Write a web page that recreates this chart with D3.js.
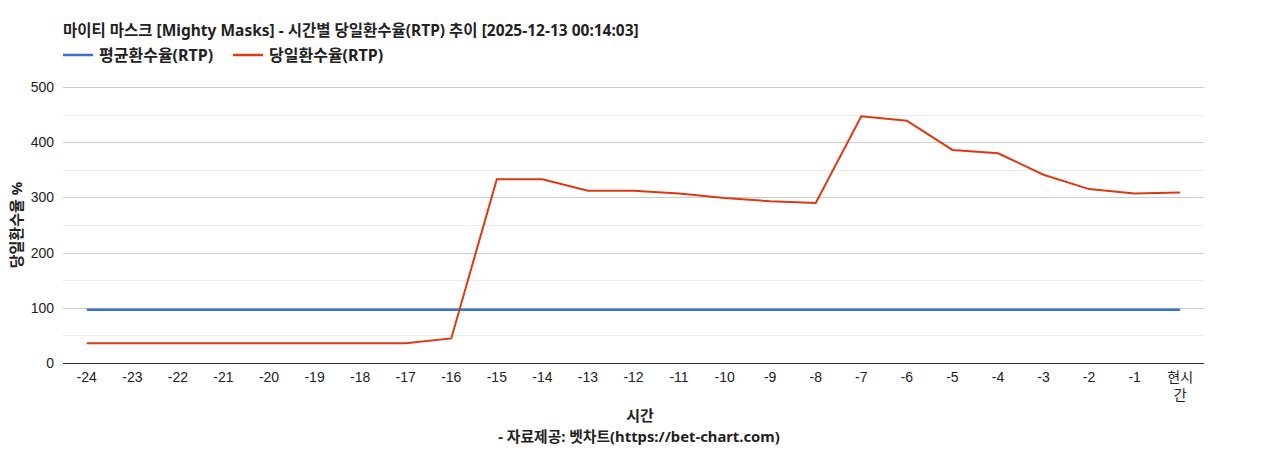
<!DOCTYPE html>
<html>
<head>
<meta charset="utf-8">
<script src="https://cdn.jsdelivr.net/npm/d3@7"></script>
<style>
  body { margin: 0; background: #fff; }
  text { font-family: "Liberation Sans", Arial, "Noto Sans CJK KR", sans-serif; }
  text.head { font-family: "Noto Sans", "Noto Sans CJK KR", sans-serif; }
</style>
</head>
<body>
<script>
// chart data
var hours = ["-24","-23","-22","-21","-20","-19","-18","-17","-16","-15","-14","-13","-12","-11","-10","-9","-8","-7","-6","-5","-4","-3","-2","-1","현시간"];
var avgRtp = [96.5,96.5,96.5,96.5,96.5,96.5,96.5,96.5,96.5,96.5,96.5,96.5,96.5,96.5,96.5,96.5,96.5,96.5,96.5,96.5,96.5,96.5,96.5,96.5,96.5];
var dayRtp = [36,36,36,36,36,36,36,36,44.5,333,333,312,312,307,299,293,290,447,439,386,380,341,315,307,309];
var yTicks = [0,100,200,300,400,500];
var seriesNames = ["평균환수율(RTP)", "당일환수율(RTP)"];
var seriesColors = ["#3c6fd6", "#dc3912"];

var width = 1268, height = 450;
var plotLeft = 63, plotRight = 1204, plotTop = 87, plotBottom = 363;

var svg = d3.select("body").append("svg")
  .attr("width", width)
  .attr("height", height);

var x = d3.scaleBand().domain(hours).range([plotLeft + 1, plotRight - 1]);
var y = d3.scaleLinear().domain([0, 500]).range([plotBottom, plotTop]);
var cx = function(d) { return x(d) + x.bandwidth() / 2; };

// gridlines
svg.append("g").selectAll("line")
  .data(d3.range(50, 501, 50))
  .enter().append("line")
  .attr("x1", plotLeft).attr("x2", plotRight)
  .attr("y1", function(d) { return Math.round(y(d)) + 0.5; })
  .attr("y2", function(d) { return Math.round(y(d)) + 0.5; })
  .attr("stroke", function(d) { return d % 100 == 0 ? "#cccccc" : "#ebebeb"; })
  .attr("stroke-width", 1);

// y tick labels
svg.append("g").selectAll("text")
  .data(yTicks)
  .enter().append("text")
  .attr("x", 54)
  .attr("y", function(d) { return y(d) + 5; })
  .attr("text-anchor", "end")
  .attr("font-size", 14)
  .attr("fill", "#222")
  .text(function(d) { return d; });

// lines
var line = d3.line()
  .x(function(d, i) { return cx(hours[i]); })
  .y(function(d) { return y(d); });

svg.append("path")
  .datum(avgRtp)
  .attr("d", line)
  .attr("fill", "none")
  .attr("stroke", seriesColors[0])
  .attr("stroke-width", 2.5);

svg.append("path")
  .datum(dayRtp)
  .attr("d", line)
  .attr("fill", "none")
  .attr("stroke", seriesColors[1])
  .attr("stroke-width", 2);

// baseline
svg.append("line")
  .attr("x1", plotLeft).attr("x2", plotRight)
  .attr("y1", Math.round(y(0)) + 0.5).attr("y2", Math.round(y(0)) + 0.5)
  .attr("stroke", "#333").attr("stroke-width", 1);

// x tick labels
var xt = svg.append("g").selectAll("text")
  .data(hours)
  .enter().append("text")
  .attr("x", function(d) { return cx(d); })
  .attr("y", 382)
  .attr("text-anchor", "middle")
  .attr("font-size", 14)
  .attr("fill", "#222");

xt.each(function(d) {
  var t = d3.select(this);
  if (d == "현시간") {
    t.append("tspan").attr("x", cx(d)).attr("dy", 0).text("현시");
    t.append("tspan").attr("x", cx(d)).attr("dy", 18).text("간");
  } else {
    t.text(d);
  }
});

// title
svg.append("text")
  .attr("class", "head")
  .attr("x", 63).attr("y", 36)
  .attr("font-size", 15.5)
  .attr("font-weight", "bold")
  .attr("fill", "#222")
  .text("마이티 마스크 [Mighty Masks] - 시간별 당일환수율(RTP) 추이 [2025-12-13 00:14:03]");

// legend
var legendX = [63, 233];
seriesNames.forEach(function(name, i) {
  svg.append("line")
    .attr("x1", legendX[i]).attr("x2", legendX[i] + 30)
    .attr("y1", 55).attr("y2", 55)
    .attr("stroke", seriesColors[i]).attr("stroke-width", 2.5);
  svg.append("text")
    .attr("class", "head")
    .attr("x", legendX[i] + 36).attr("y", 60.5)
    .attr("font-size", 16)
    .attr("font-weight", "bold")
    .attr("fill", "#222")
    .text(name);
});

// axis titles
svg.append("text")
  .attr("class", "head")
  .attr("transform", "translate(22,225) rotate(-90)")
  .attr("text-anchor", "middle")
  .attr("font-size", 15)
  .attr("font-weight", "bold")
  .attr("fill", "#222")
  .text("당일환수율 %");

svg.append("text")
  .attr("class", "head")
  .attr("x", 640).attr("y", 421)
  .attr("text-anchor", "middle")
  .attr("font-size", 15)
  .attr("font-weight", "bold")
  .attr("fill", "#222")
  .text("시간");

svg.append("text")
  .attr("class", "head")
  .attr("x", 639).attr("y", 442)
  .attr("text-anchor", "middle")
  .attr("font-size", 14.8)
  .attr("font-weight", "bold")
  .attr("fill", "#222")
  .text("- 자료제공: 벳차트(https://bet-chart.com)");
</script>
</body>
</html>
